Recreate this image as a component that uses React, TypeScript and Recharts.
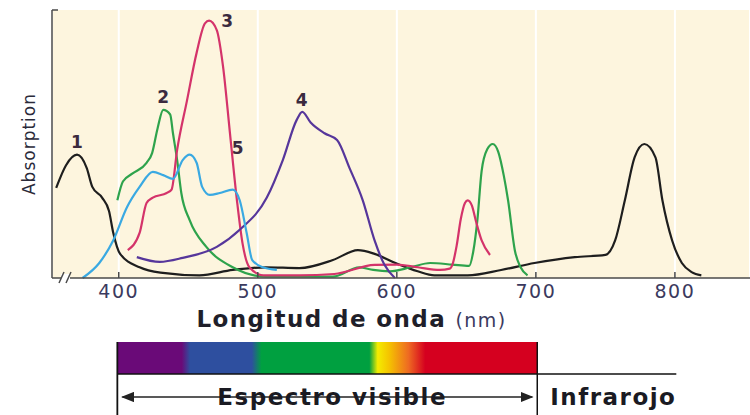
import { LineChart, Line, XAxis, YAxis, CartesianGrid, ReferenceDot } from "recharts";

// wavelength (nm) / absorption (0-100) pairs
const curve1 = [
  [355, 33.6], [362, 42], [370, 46], [377, 41], [381, 34], [388, 30], [393, 25], [396, 17],
  [401, 9], [415, 4], [430, 2], [458, 1], [482, 3], [506, 4], [530, 3.7], [554, 6.7],
  [572, 10.4], [584, 9], [599, 5.6], [615, 2.5], [627, 1], [651, 1], [675, 3], [699, 5.6],
  [728, 7.8], [750, 8.6], [757, 14], [764, 29], [771, 45], [778, 50], [786, 45], [791, 29],
  [798, 14], [805, 5.6], [812, 2.2], [819, 1],
];
const curve2 = [
  [399, 29], [403, 36], [410, 39], [420, 43], [424, 46.6], [428, 56], [432, 62.7], [437, 61],
  [439, 54], [442, 44], [445, 31.7], [451, 21.6], [463, 11.6], [482, 4], [506, 0.5],
  [554, 0.5], [573, 4], [583, 3], [595, 2.5], [610, 4], [624, 5.6], [640, 5], [652, 4.5],
  [655, 10], [658, 22], [661, 40], [665, 48], [669, 50], [673, 47], [677, 38], [680, 29],
  [685, 10], [689, 4], [694, 1],
];
const curve3 = [
  [406.5, 10.4], [415, 16.8], [420, 28], [424.5, 30], [434.5, 31.7], [438, 33], [442, 47.8],
  [449, 66], [456, 84], [462, 95], [465, 96], [470.5, 92.5], [475, 79], [480, 54], [485, 29],
  [489, 13], [494, 4], [504, 1], [530, 1], [555, 1.5], [584, 4.9], [600, 5], [615, 4],
  [631, 3], [638, 3.5], [640, 5], [643, 12], [646, 22], [649, 28], [651, 29], [654, 27],
  [657, 21], [661, 14], [667, 8.6],
];
const curve4 = [
  [413, 7.8], [429.5, 6], [446, 7.5], [470.5, 11.6], [487, 18], [506.5, 30], [518, 44],
  [528, 59], [532, 62], [538, 58], [548, 54], [557, 51.5], [566, 41], [575.5, 29],
  [584, 14], [591, 5], [598.6, 0],
];
const curve5 = [
  [374, 0], [386, 5.6], [396, 14], [406, 26.5], [415, 34], [424.5, 39.6], [432, 38.4],
  [439, 37], [446, 44], [451, 46], [456, 43], [460, 34], [465.5, 31], [472.7, 31.7],
  [482, 33], [487, 29], [492, 16.8], [496, 6.7], [503.6, 4], [513.7, 3],
];

const curveNames = ["1", "2", "3", "4", "5"];
const curveColors = ["#1e1e1e", "#2ea34c", "#d4336a", "#56369b", "#3aa9e2"];
const curves = [curve1, curve2, curve3, curve4, curve5];

// number labels: [nm, absorption, text]
const curveLabels: [number, number, string][] = [
  [370, 50.7, "1"], [432, 67.5, "2"], [478, 96, "3"], [531.6, 66.4, "4"], [485.6, 48.5, "5"],
];

const xTicks = [400, 500, 600, 700, 800];
const xDomain = [352, 854];

// spectrum bar colour stops: [nm, colour]
const spectrumStops: [number, string][] = [
  [400, "#6a0a78"], [446, "#6a0a78"], [452, "#2e4f9f"], [496, "#2e4f9f"], [503, "#00a040"],
  [580, "#00a040"], [586, "#f4ec00"], [594, "#f5c400"], [608, "#ee6a22"], [620, "#d5001f"],
  [700, "#d5001f"],
];

const FONT = "'DejaVu Sans', Verdana, sans-serif";
const W = 750;
const H = 415;
const PLOT_LEFT = 52;
const PLOT_TOP = 10;
const PLOT_BOTTOM = 278;

const xs = (nm: number) => PLOT_LEFT + ((nm - xDomain[0]) / (xDomain[1] - xDomain[0])) * (W - PLOT_LEFT);

function AxisTitle({ viewBox }: any) {
  const x = viewBox.x + viewBox.width * 0.429;
  const y = viewBox.y + 49;
  return (
    <text x={x} y={y} textAnchor="middle" fontFamily={FONT} fill="#1f1f2a" letterSpacing={1.4}>
      <tspan fontSize={23} fontWeight={700}>Longitud de onda </tspan>
      <tspan fontSize={19} fill="#3b3a5e">(nm)</tspan>
    </text>
  );
}

export default function App() {
  const barLeft = xs(399);
  const barRight = xs(701);
  const arrowY = 397;
  return (
    <div style={{ position: "absolute", left: 0, top: 0, width: W, height: H, background: "#fff" }}>
      <LineChart width={W} height={H} margin={{ top: PLOT_TOP, right: 0, left: 0, bottom: 77 }}>
        <CartesianGrid horizontal={false} stroke="#ffffff" strokeWidth={2} fill="#fdf5de" />
        <XAxis
          type="number"
          dataKey="x"
          domain={xDomain}
          ticks={xTicks}
          allowDataOverflow
          height={60}
          stroke="#4a4a4a"
          strokeWidth={1.5}
          tickSize={-6}
          tickMargin={13}
          tick={{ fontSize: 19, fill: "#3b3a5e", fontFamily: FONT, letterSpacing: 1.5 }}
          label={<AxisTitle />}
        />
        <YAxis
          type="number"
          domain={[0, 100]}
          width={52}
          tick={false}
          tickLine={false}
          stroke="#4a4a4a"
          strokeWidth={1.5}
          label={{
            value: "Absorption",
            angle: -90,
            position: "center",
            dx: 3,
            style: { fontSize: 17, fill: "#2a2a3a", fontFamily: FONT, letterSpacing: 1 },
          }}
        />
        {curves.map((c, i) => (
          <Line
            key={curveNames[i]}
            data={c.map(([x, y]) => ({ x, y }))}
            dataKey="y"
            type="monotone"
            stroke={curveColors[i]}
            strokeWidth={2.2}
            dot={false}
            isAnimationActive={false}
          />
        ))}
        {curveLabels.map(([x, y, t]) => (
          <ReferenceDot
            key={t}
            x={x}
            y={y}
            r={0}
            stroke="none"
            label={{ value: t, position: "center", style: { fontSize: 17, fontWeight: 700, fill: "#3b2a3e", fontFamily: FONT } }}
          />
        ))}
      </LineChart>
      <svg width={W} height={H} style={{ position: "absolute", left: 0, top: 0, pointerEvents: "none" }}>
        <defs>
          <linearGradient id="spec" x1="0" x2="1" y1="0" y2="0">
            {spectrumStops.map(([nm, col], i) => (
              <stop key={i} offset={(nm - 400) / 300} stopColor={col} />
            ))}
          </linearGradient>
          <marker id="ah" markerWidth="10" markerHeight="8" refX="9" refY="4" orient="auto-start-reverse">
            <path d="M0,0 L10,4 L0,8 Z" fill="#222" />
          </marker>
        </defs>
        {/* axis break and top tick */}
        <line x1={PLOT_LEFT} y1={PLOT_TOP} x2={PLOT_LEFT + 6} y2={PLOT_TOP} stroke="#4a4a4a" strokeWidth={1.5} />
        <rect x={61} y={PLOT_BOTTOM - 4} width={9} height={8} fill="#fff" />
        <line x1={59} y1={PLOT_BOTTOM + 5} x2={64} y2={PLOT_BOTTOM - 6} stroke="#4a4a4a" strokeWidth={1.5} />
        <line x1={66} y1={PLOT_BOTTOM + 5} x2={71} y2={PLOT_BOTTOM - 6} stroke="#4a4a4a" strokeWidth={1.5} />
        {/* spectrum bar */}
        <rect x={barLeft} y={342} width={barRight - barLeft} height={32} fill="url(#spec)" />
        <line x1={barLeft} y1={374} x2={xs(801)} y2={374} stroke="#111" strokeWidth={1.5} />
        <line x1={barLeft} y1={342} x2={barLeft} y2={H} stroke="#111" strokeWidth={1.8} />
        <line x1={barRight} y1={342} x2={barRight} y2={H} stroke="#111" strokeWidth={1.5} />
        <line
          x1={barLeft + 5}
          y1={arrowY}
          x2={barRight - 5}
          y2={arrowY}
          stroke="#222"
          strokeWidth={1.3}
          markerStart="url(#ah)"
          markerEnd="url(#ah)"
        />
        <text x={xs(553.5)} y={arrowY + 8} textAnchor="middle" fontFamily={FONT} fontSize={23} fontWeight={700} fill="#1a1a22" letterSpacing={1.5}>
          Espectro visible
        </text>
        <text x={barRight + 13} y={arrowY + 8} fontFamily={FONT} fontSize={23} fontWeight={700} fill="#1a1a22" letterSpacing={1.5}>
          Infrarojo
        </text>
      </svg>
    </div>
  );
}
